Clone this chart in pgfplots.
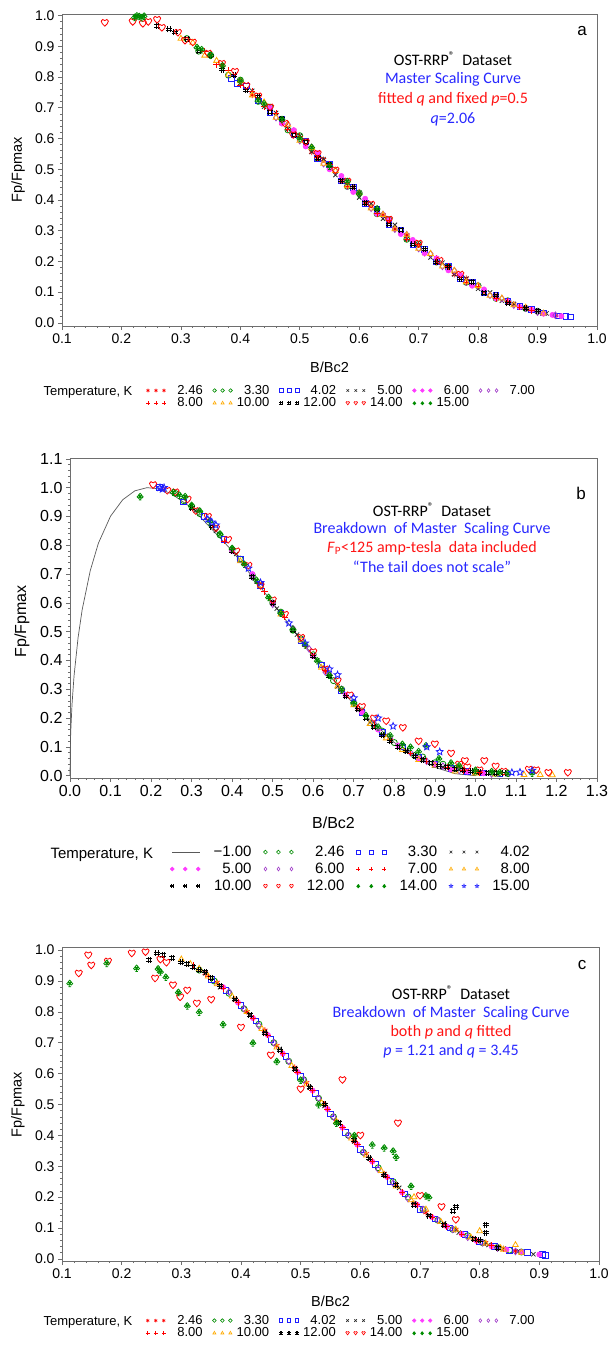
\documentclass[border=0pt]{standalone}
\usepackage{fontspec}
\setmainfont{Liberation Sans}
\newfontfamily\calib{Carlito}
\usepackage{pgfplots}
\pgfplotsset{compat=1.18}

\definecolor{sred}{RGB}{255,0,0}
\definecolor{sgreen}{RGB}{0,140,0}
\definecolor{sblue}{RGB}{30,30,255}
\definecolor{smag}{RGB}{255,60,255}
\definecolor{spurp}{RGB}{160,60,200}
\definecolor{sorange}{RGB}{255,170,0}
\definecolor{txtblue}{RGB}{40,40,255}
\definecolor{txtred}{RGB}{255,20,20}
\definecolor{axgray}{RGB}{110,110,110}

\pgfdeclareplotmark{hash}{%
  \pgfpathmoveto{\pgfqpoint{-0.4\pgfplotmarksize}{-\pgfplotmarksize}}\pgfpathlineto{\pgfqpoint{-0.4\pgfplotmarksize}{\pgfplotmarksize}}%
  \pgfpathmoveto{\pgfqpoint{0.4\pgfplotmarksize}{-\pgfplotmarksize}}\pgfpathlineto{\pgfqpoint{0.4\pgfplotmarksize}{\pgfplotmarksize}}%
  \pgfpathmoveto{\pgfqpoint{-\pgfplotmarksize}{-0.4\pgfplotmarksize}}\pgfpathlineto{\pgfqpoint{\pgfplotmarksize}{-0.4\pgfplotmarksize}}%
  \pgfpathmoveto{\pgfqpoint{-\pgfplotmarksize}{0.4\pgfplotmarksize}}\pgfpathlineto{\pgfqpoint{\pgfplotmarksize}{0.4\pgfplotmarksize}}%
  \pgfusepathqstroke}
\pgfdeclareplotmark{heart}{%
  \pgfpathmoveto{\pgfqpoint{0pt}{-\pgfplotmarksize}}%
  \pgfpathcurveto{\pgfqpoint{-0.5\pgfplotmarksize}{-0.5\pgfplotmarksize}}{\pgfqpoint{-\pgfplotmarksize}{-0.1\pgfplotmarksize}}{\pgfqpoint{-\pgfplotmarksize}{0.4\pgfplotmarksize}}%
  \pgfpathcurveto{\pgfqpoint{-\pgfplotmarksize}{0.95\pgfplotmarksize}}{\pgfqpoint{-0.25\pgfplotmarksize}{1.05\pgfplotmarksize}}{\pgfqpoint{0pt}{0.55\pgfplotmarksize}}%
  \pgfpathcurveto{\pgfqpoint{0.25\pgfplotmarksize}{1.05\pgfplotmarksize}}{\pgfqpoint{\pgfplotmarksize}{0.95\pgfplotmarksize}}{\pgfqpoint{\pgfplotmarksize}{0.4\pgfplotmarksize}}%
  \pgfpathcurveto{\pgfqpoint{\pgfplotmarksize}{-0.1\pgfplotmarksize}}{\pgfqpoint{0.5\pgfplotmarksize}{-0.5\pgfplotmarksize}}{\pgfqpoint{0pt}{-\pgfplotmarksize}}%
  \pgfpathclose\pgfusepathqstroke}
\pgfdeclareplotmark{club}{%
  \pgfpathcircle{\pgfqpoint{0pt}{0.45\pgfplotmarksize}}{0.38\pgfplotmarksize}%
  \pgfpathcircle{\pgfqpoint{-0.45\pgfplotmarksize}{-0.15\pgfplotmarksize}}{0.38\pgfplotmarksize}%
  \pgfpathcircle{\pgfqpoint{0.45\pgfplotmarksize}{-0.15\pgfplotmarksize}}{0.38\pgfplotmarksize}%
  \pgfpathmoveto{\pgfqpoint{0pt}{0pt}}\pgfpathlineto{\pgfqpoint{0pt}{-\pgfplotmarksize}}%
  \pgfpathmoveto{\pgfqpoint{-0.35\pgfplotmarksize}{-\pgfplotmarksize}}\pgfpathlineto{\pgfqpoint{0.35\pgfplotmarksize}{-\pgfplotmarksize}}%
  \pgfusepathqstroke}
\pgfdeclareplotmark{starout}{%
  \pgfpathmoveto{\pgfpointpolar{90}{\pgfplotmarksize}}%
  \pgfpathlineto{\pgfpointpolar{126}{0.45\pgfplotmarksize}}%
  \pgfpathlineto{\pgfpointpolar{162}{\pgfplotmarksize}}%
  \pgfpathlineto{\pgfpointpolar{198}{0.45\pgfplotmarksize}}%
  \pgfpathlineto{\pgfpointpolar{234}{\pgfplotmarksize}}%
  \pgfpathlineto{\pgfpointpolar{270}{0.45\pgfplotmarksize}}%
  \pgfpathlineto{\pgfpointpolar{306}{\pgfplotmarksize}}%
  \pgfpathlineto{\pgfpointpolar{342}{0.45\pgfplotmarksize}}%
  \pgfpathlineto{\pgfpointpolar{18}{\pgfplotmarksize}}%
  \pgfpathlineto{\pgfpointpolar{54}{0.45\pgfplotmarksize}}%
  \pgfpathclose\pgfusepathqstroke}

\pgfplotsset{
  mA/.style={only marks, sred, mark=asterisk, mark size=3pt, line width=0.8pt},
  mB/.style={only marks, sgreen, mark=o, mark size=3pt, line width=0.8pt},
  mC/.style={only marks, sblue, mark=square, mark size=2.8pt, line width=0.8pt},
  mD/.style={only marks, black!85, mark=x, mark size=3pt, line width=0.8pt},
  mE/.style={only marks, smag, mark=*, mark size=2.6pt, line width=0.6pt},
  mF/.style={only marks, spurp, mark=diamond, mark size=3.3pt, line width=0.8pt},
  mG/.style={only marks, sred, mark=+, mark size=3.2pt, line width=0.8pt},
  mH/.style={only marks, sorange, mark=triangle, mark size=3.3pt, line width=0.8pt},
  mI/.style={only marks, black, mark=hash, mark size=3pt, line width=0.8pt},
  mJ/.style={only marks, sred, mark=heart, mark size=3.6pt, line width=0.8pt},
  mK/.style={only marks, sgreen, mark=club, mark size=3.6pt, line width=0.8pt},
  mL/.style={only marks, sblue, mark=starout, mark size=3.6pt, line width=0.8pt},
  sasaxis/.style={
    scale only axis, anchor=south west,
    axis line style={draw=axgray, line width=0.7pt},
    every tick/.style={draw=axgray, line width=0.6pt},
    tick align=outside,
    xtick pos=bottom, ytick pos=left,
    major tick length=4pt, minor tick length=2.2pt,
    minor x tick num=4, minor y tick num=4,
    /pgf/number format/assume math mode=true,
    xticklabel style={/pgf/number format/.cd, fixed, fixed zerofill, precision=1},
    yticklabel style={/pgf/number format/.cd, fixed, fixed zerofill, precision=1},
    xlabel={B/Bc2}, ylabel={Fp/Fpmax},
    clip=false,
  },
  legA/.style={
    legend image code/.code={\draw[mark repeat=1,##1, mark size=1.8pt, line width=0.6pt] plot coordinates {(0pt,0pt) (8pt,0pt) (16pt,0pt)};},
    legend columns=6,
    legend style={draw=none, fill=none, inner sep=0pt, font=\fontsize{13}{14}\selectfont,
      nodes={inner sep=1pt}, row sep=0pt,
      /tikz/every even column/.append style={column sep=9pt}},
  },
  legB/.style={
    legend image code/.code={\draw[mark repeat=1,##1, mark size=1.9pt, line width=0.6pt] plot coordinates {(0pt,0pt) (13pt,0pt) (26pt,0pt)};},
    legend columns=4,
    legend style={draw=none, fill=none, inner sep=0pt, font=\fontsize{15}{16}\selectfont,
      nodes={inner sep=1pt}, row sep=3pt,
      /tikz/every even column/.append style={column sep=11pt}},
  },
}

\newcommand{\la}[1]{\makebox[36pt][r]{#1}}
\newcommand{\lb}[1]{\makebox[50pt][r]{#1}}

\begin{document}
\begin{tikzpicture}[x=1pt,y=1pt]
\path[use as bounding box] (0,0) rectangle (608,1347);

% ================= Panel a =================
\begin{axis}[sasaxis, legA,
  at={(62pt,1021pt)}, width=535pt, height=312pt,
  xmin=0.1, xmax=1.0, ymin=-0.01, ymax=1.005,
  xtick={0.1,0.2,...,1.0}, ytick={0,0.1,...,1.0},
  ticklabel style={font=\fontsize{14}{16}\selectfont},
  label style={font=\fontsize{14.5}{16}\selectfont},
  xlabel style={at={(axis description cs:0.5,-0.131)}, anchor=center},
  ylabel style={at={(axis description cs:-0.082,0.5)}, anchor=center},
  legend style={at={(0.157,-0.186)}, anchor=north west},
]
\addplot[mA] coordinates {(0.35,0.868) (0.37,0.838) (0.40,0.789) (0.42,0.741) (0.45,0.701) (0.47,0.649) (0.49,0.626) (0.52,0.556) (0.54,0.531) (0.57,0.462) (0.59,0.441) (0.61,0.390) (0.64,0.352) (0.66,0.305) (0.68,0.286) (0.71,0.226) (0.73,0.211) (0.76,0.158) (0.78,0.145) (0.81,0.100) (0.83,0.090) (0.86,0.061) (0.88,0.050) (0.91,0.031) (0.93,0.024)};
\addlegendentry{\la{2.46}}
\addplot[mB] coordinates {(0.31,0.925) (0.33,0.884) (0.35,0.871) (0.38,0.806) (0.40,0.790) (0.43,0.721) (0.45,0.702) (0.48,0.628) (0.50,0.609) (0.53,0.536) (0.55,0.515) (0.58,0.444) (0.60,0.423) (0.63,0.355) (0.65,0.336) (0.68,0.272) (0.70,0.256) (0.73,0.198) (0.75,0.183) (0.78,0.132) (0.80,0.121) (0.83,0.080) (0.85,0.072) (0.88,0.047) (0.90,0.038)};
\addlegendentry{\la{3.30}}
\addplot[mC] coordinates {(0.385,0.796) (0.395,0.779) (0.41,0.771) (0.43,0.722) (0.45,0.685) (0.47,0.664) (0.49,0.611) (0.51,0.590) (0.53,0.536) (0.55,0.515) (0.57,0.462) (0.59,0.441) (0.61,0.389) (0.63,0.370) (0.65,0.321) (0.67,0.302) (0.69,0.256) (0.71,0.240) (0.73,0.198) (0.75,0.183) (0.77,0.144) (0.79,0.132) (0.81,0.099) (0.83,0.090) (0.85,0.070) (0.87,0.053) (0.89,0.043) (0.91,0.032) (0.935,0.023) (0.948,0.021) (0.955,0.020)};
\addlegendentry{\la{4.02}}
\addplot[mD] coordinates {(0.40,0.781) (0.42,0.755) (0.44,0.703) (0.46,0.683) (0.48,0.631) (0.50,0.608) (0.52,0.556) (0.54,0.533) (0.56,0.481) (0.58,0.459) (0.60,0.408) (0.62,0.388) (0.64,0.339) (0.66,0.319) (0.68,0.273) (0.70,0.255) (0.72,0.213) (0.74,0.196) (0.76,0.158) (0.78,0.144) (0.80,0.111) (0.82,0.099) (0.84,0.072) (0.86,0.062) (0.88,0.048) (0.90,0.037) (0.915,0.031)};
\addlegendentry{\la{5.00}}
\addplot[mE] coordinates {(0.45,0.700) (0.47,0.649) (0.49,0.627) (0.51,0.574) (0.53,0.552) (0.55,0.500) (0.57,0.478) (0.59,0.426) (0.61,0.404) (0.63,0.355) (0.65,0.335) (0.67,0.289) (0.69,0.270) (0.71,0.227) (0.73,0.210) (0.75,0.171) (0.77,0.156) (0.79,0.121) (0.81,0.109) (0.83,0.080) (0.85,0.070) (0.87,0.052) (0.89,0.043) (0.91,0.030) (0.925,0.026) (0.94,0.022)};
\addlegendentry{\la{6.00}}
\addplot[mF] coordinates {(0.46,0.668) (0.48,0.646) (0.50,0.593) (0.52,0.571) (0.54,0.518) (0.56,0.496) (0.58,0.445) (0.60,0.423) (0.62,0.373) (0.64,0.353) (0.66,0.305) (0.68,0.287) (0.70,0.242) (0.72,0.225) (0.74,0.184) (0.76,0.170) (0.78,0.133) (0.80,0.121) (0.82,0.090) (0.84,0.079) (0.86,0.058) (0.88,0.048) (0.90,0.035) (0.93,0.025)};
\addlegendentry{\la{7.00}}
\addplot[mG] coordinates {(0.34,0.884) (0.36,0.840) (0.38,0.822) (0.40,0.774) (0.42,0.753) (0.44,0.704) (0.46,0.682) (0.48,0.631) (0.50,0.608) (0.53,0.537) (0.55,0.515) (0.58,0.445) (0.60,0.422) (0.63,0.356) (0.65,0.335) (0.68,0.273) (0.70,0.254) (0.73,0.199) (0.75,0.183) (0.78,0.133) (0.80,0.120) (0.83,0.080) (0.85,0.071) (0.87,0.052) (0.89,0.041)};
\addlegendentry{\la{8.00}}
\addplot[mH] coordinates {(0.30,0.925) (0.32,0.912) (0.34,0.870) (0.36,0.853) (0.38,0.808) (0.40,0.787) (0.42,0.740) (0.44,0.718) (0.46,0.668) (0.48,0.645) (0.50,0.593) (0.52,0.570) (0.54,0.518) (0.56,0.495) (0.58,0.445) (0.60,0.422) (0.62,0.373) (0.64,0.352) (0.66,0.305) (0.68,0.286) (0.70,0.242) (0.72,0.225) (0.74,0.184) (0.76,0.170) (0.78,0.133) (0.80,0.121) (0.82,0.089) (0.84,0.080) (0.86,0.058) (0.88,0.050) (0.91,0.031)};
\addlegendentry{\la{10.00}}
\addplot[mI] coordinates {(0.26,0.966) (0.28,0.955) (0.29,0.945) (0.31,0.925) (0.33,0.884) (0.35,0.870) (0.37,0.824) (0.39,0.806) (0.41,0.757) (0.43,0.737) (0.45,0.686) (0.47,0.664) (0.49,0.612) (0.51,0.589) (0.53,0.537) (0.55,0.514) (0.57,0.463) (0.59,0.441) (0.61,0.390) (0.63,0.370) (0.65,0.321) (0.67,0.302) (0.69,0.256) (0.71,0.240) (0.73,0.197) (0.75,0.183) (0.77,0.144) (0.79,0.133) (0.81,0.098) (0.83,0.090) (0.85,0.064) (0.88,0.047) (0.90,0.040)};
\addlegendentry{\la{12.00}}
\addplot[mJ] coordinates {(0.172,0.977) (0.219,0.980) (0.236,0.974) (0.245,0.980) (0.260,0.987) (0.268,0.961) (0.295,0.945) (0.307,0.919) (0.320,0.913) (0.346,0.877) (0.369,0.844) (0.391,0.818) (0.41,0.772) (0.43,0.738) (0.45,0.702) (0.475,0.649) (0.489,0.612) (0.51,0.589) (0.53,0.551) (0.56,0.497) (0.58,0.461) (0.62,0.386) (0.65,0.337) (0.70,0.259) (0.735,0.203) (0.77,0.158)};
\addlegendentry{\la{14.00}}
\addplot[mK] coordinates {(0.222,0.995) (0.226,1.000) (0.230,0.998) (0.234,0.994) (0.238,0.999) (0.327,0.897) (0.335,0.890) (0.35,0.872) (0.37,0.838) (0.40,0.788) (0.43,0.724) (0.44,0.714) (0.47,0.663) (0.50,0.601) (0.52,0.572) (0.55,0.511) (0.58,0.461) (0.60,0.421) (0.63,0.372)};
\addlegendentry{\la{15.00}}
\end{axis}

% ================= Panel b =================
\begin{axis}[sasaxis, legB,
  at={(70pt,569pt)}, width=527pt, height=320pt,
  xmin=0, xmax=1.3, ymin=-0.008, ymax=1.103,
  xtick={0,0.1,...,1.3}, ytick={0,0.1,...,1.1},
  ticklabel style={font=\fontsize{16}{18}\selectfont},
  label style={font=\fontsize{16}{18}\selectfont},
  xlabel style={at={(axis description cs:0.5,-0.141)}, anchor=center},
  ylabel style={at={(axis description cs:-0.091,0.49)}, anchor=center},
  legend style={at={(0.19,-0.209)}, anchor=north west},
]
\addplot[no marks, black!65, line width=0.7pt, legend image code/.code={\draw[##1] (0pt,0pt) -- (28pt,0pt);}] coordinates {(0,0) (0.001,0.112) (0.002,0.158) (0.005,0.248) (0.01,0.347) (0.02,0.48) (0.03,0.576) (0.05,0.712) (0.07,0.807) (0.1,0.901) (0.13,0.958) (0.16,0.989) (0.19,1.0) (0.22,0.996) (0.25,0.979) (0.3,0.93) (0.4,0.781) (0.5,0.6) (0.6,0.415) (0.7,0.248) (0.8,0.115) (0.9,0.029) (0.95,0.007) (1.0,0)};
\addlegendentry{\lb{−1.00}}
\addplot[mB] coordinates {(0.26,0.98) (0.28,0.955) (0.3,0.935) (0.32,0.91) (0.35,0.87) (0.37,0.836) (0.4,0.785) (0.42,0.752) (0.45,0.695) (0.47,0.66) (0.5,0.6) (0.52,0.568) (0.55,0.505) (0.57,0.475) (0.6,0.42) (0.62,0.385) (0.65,0.33) (0.67,0.3) (0.7,0.25) (0.72,0.225) (0.75,0.175) (0.77,0.155) (0.8,0.115) (0.82,0.1) (0.85,0.07) (0.87,0.065) (0.9,0.045) (0.92,0.04) (0.95,0.025) (1.0,0.012) (1.05,0.008)};
\addlegendentry{\lb{2.46}}
\addplot[mC] coordinates {(0.22,1.0) (0.28,0.95) (0.33,0.9) (0.38,0.82) (0.42,0.75) (0.47,0.66) (0.52,0.565) (0.57,0.47) (0.62,0.385) (0.67,0.295) (0.72,0.22) (0.77,0.15) (0.82,0.1) (0.86,0.065) (0.9,0.04) (0.94,0.025) (0.98,0.015) (1.02,0.01) (1.06,0.006)};
\addlegendentry{\lb{3.30}}
\addplot[mD] coordinates {(0.31,0.92) (0.36,0.85) (0.41,0.77) (0.46,0.675) (0.51,0.58) (0.56,0.49) (0.61,0.4) (0.66,0.31) (0.7,0.255) (0.74,0.185) (0.78,0.14) (0.83,0.085) (0.87,0.06) (0.92,0.03) (0.96,0.02) (1.0,0.01) (1.08,0.005)};
\addlegendentry{\lb{4.02}}
\addplot[mE] coordinates {(0.4,0.78) (0.45,0.7) (0.5,0.6) (0.55,0.51) (0.6,0.415) (0.64,0.35) (0.68,0.28) (0.72,0.22) (0.76,0.16) (0.81,0.105) (0.86,0.06) (0.9,0.04) (0.94,0.022) (0.98,0.014) (1.02,0.008)};
\addlegendentry{\lb{5.00}}
\addplot[mF] coordinates {(0.45,0.69) (0.5,0.595) (0.55,0.51) (0.59,0.44) (0.63,0.36) (0.67,0.3) (0.71,0.235) (0.75,0.18) (0.79,0.13) (0.84,0.08) (0.88,0.05) (0.92,0.033) (0.96,0.018) (1.04,0.006)};
\addlegendentry{\lb{6.00}}
\addplot[mG] coordinates {(0.38,0.815) (0.43,0.735) (0.48,0.64) (0.53,0.55) (0.58,0.45) (0.63,0.365) (0.67,0.295) (0.71,0.235) (0.75,0.175) (0.79,0.125) (0.84,0.078) (0.88,0.05) (0.93,0.03) (0.97,0.018) (1.01,0.01)};
\addlegendentry{\lb{7.00}}
\addplot[mH] coordinates {(0.42,0.745) (0.47,0.66) (0.52,0.56) (0.57,0.47) (0.62,0.375) (0.66,0.31) (0.7,0.245) (0.74,0.18) (0.78,0.13) (0.82,0.09) (0.86,0.055) (0.9,0.035) (0.95,0.015) (1.0,0.008) (1.05,0.005) (1.12,0.003) (1.16,0.003) (1.19,0.002)};
\addlegendentry{\lb{8.00}}
\addplot[mI] coordinates {(0.3,0.93) (0.35,0.865) (0.4,0.78) (0.45,0.69) (0.5,0.6) (0.55,0.505) (0.6,0.415) (0.64,0.345) (0.68,0.275) (0.71,0.23) (0.73,0.2) (0.75,0.17) (0.77,0.14) (0.79,0.12) (0.81,0.1) (0.83,0.085) (0.85,0.068) (0.87,0.055) (0.89,0.045) (0.91,0.035) (0.93,0.03) (0.95,0.024) (0.97,0.02) (0.99,0.015) (1.01,0.012) (1.03,0.01) (1.05,0.01) (1.07,0.008)};
\addlegendentry{\lb{10.00}}
\addplot[mJ] coordinates {(0.205,1.01) (0.24,0.99) (0.26,0.985) (0.29,0.96) (0.31,0.92) (0.34,0.9) (0.36,0.86) (0.39,0.82) (0.41,0.78) (0.44,0.73) (0.47,0.66) (0.5,0.61) (0.53,0.56) (0.57,0.48) (0.6,0.43) (0.63,0.37) (0.66,0.33) (0.69,0.28) (0.72,0.24) (0.75,0.2) (0.78,0.19) (0.821,0.167) (0.86,0.12) (0.9,0.11) (0.94,0.078) (0.96,0.04) (0.974,0.052) (0.98,0.03) (1.01,0.02) (1.022,0.052) (1.05,0.033) (1.07,0.015) (1.132,0.022) (1.15,0.02) (1.18,0.011) (1.228,0.011)};
\addlegendentry{\lb{12.00}}
\addplot[mK] coordinates {(0.173,0.97) (0.255,0.985) (0.27,0.975) (0.284,0.97) (0.3,0.94) (0.32,0.92) (0.345,0.885) (0.37,0.84) (0.4,0.79) (0.43,0.735) (0.46,0.68) (0.49,0.62) (0.52,0.565) (0.55,0.51) (0.58,0.455) (0.61,0.4) (0.64,0.35) (0.67,0.3) (0.7,0.255) (0.73,0.21) (0.76,0.17) (0.79,0.14) (0.82,0.11) (0.84,0.1) (0.86,0.085) (0.878,0.105) (0.91,0.06) (0.94,0.045) (0.96,0.035) (1.0,0.02) (1.04,0.015) (1.06,0.012) (1.08,0.01) (1.14,0.01)};
\addlegendentry{\lb{14.00}}
\addplot[mL] coordinates {(0.222,1.0) (0.228,0.995) (0.232,1.0) (0.34,0.89) (0.35,0.88) (0.36,0.87) (0.44,0.72) (0.47,0.67) (0.54,0.53) (0.58,0.46) (0.64,0.37) (0.66,0.35) (0.7,0.27) (0.76,0.2) (0.797,0.172) (0.88,0.1) (0.912,0.083) (1.09,0.011) (1.11,0.012) (1.14,0.018)};
\addlegendentry{\lb{15.00}}
\end{axis}

% ================= Panel c =================
\begin{axis}[sasaxis, legA,
  at={(62pt,86pt)}, width=537pt, height=314pt,
  xmin=0.1, xmax=1.0, ymin=-0.007, ymax=1.01,
  xtick={0.1,0.2,...,1.0}, ytick={0,0.1,...,1.0},
  ticklabel style={font=\fontsize{14}{16}\selectfont},
  label style={font=\fontsize{14.5}{16}\selectfont},
  xlabel style={at={(axis description cs:0.5,-0.127)}, anchor=center},
  ylabel style={at={(axis description cs:-0.082,0.497)}, anchor=center},
  legend style={at={(0.156,-0.169)}, anchor=north west},
]
\addplot[mA] coordinates {(0.34,0.925) (0.36,0.895) (0.39,0.84) (0.41,0.8) (0.44,0.74) (0.46,0.69) (0.49,0.62) (0.51,0.57) (0.54,0.5) (0.56,0.445) (0.59,0.38) (0.61,0.34) (0.64,0.275) (0.66,0.24) (0.69,0.18) (0.71,0.15) (0.74,0.11) (0.76,0.095) (0.79,0.065) (0.81,0.052) (0.84,0.032) (0.86,0.025)};
\addlegendentry{\la{2.46}}
\addplot[mB] coordinates {(0.33,0.935) (0.355,0.9) (0.38,0.86) (0.405,0.81) (0.43,0.76) (0.455,0.7) (0.48,0.64) (0.505,0.58) (0.53,0.52) (0.555,0.46) (0.58,0.4) (0.605,0.345) (0.63,0.295) (0.655,0.25) (0.68,0.2) (0.705,0.16) (0.73,0.125) (0.755,0.095) (0.78,0.075) (0.805,0.052) (0.83,0.037) (0.85,0.028) (0.87,0.022)};
\addlegendentry{\la{3.30}}
\addplot[mC] coordinates {(0.35,0.905) (0.375,0.87) (0.4,0.82) (0.425,0.77) (0.45,0.71) (0.475,0.655) (0.5,0.59) (0.525,0.535) (0.55,0.47) (0.575,0.41) (0.6,0.355) (0.625,0.305) (0.65,0.25) (0.675,0.21) (0.7,0.16) (0.725,0.13) (0.75,0.1) (0.775,0.08) (0.8,0.055) (0.825,0.04) (0.85,0.027) (0.88,0.02) (0.905,0.015) (0.91,0.012)};
\addlegendentry{\la{4.02}}
\addplot[mD] coordinates {(0.34,0.925) (0.365,0.88) (0.39,0.84) (0.415,0.79) (0.44,0.735) (0.465,0.68) (0.49,0.615) (0.515,0.555) (0.54,0.495) (0.565,0.44) (0.59,0.38) (0.615,0.325) (0.64,0.275) (0.665,0.23) (0.69,0.18) (0.715,0.14) (0.74,0.115) (0.765,0.085) (0.79,0.065) (0.815,0.045) (0.84,0.033) (0.865,0.025) (0.89,0.015)};
\addlegendentry{\la{5.00}}
\addplot[mE] coordinates {(0.37,0.88) (0.395,0.83) (0.42,0.78) (0.445,0.725) (0.47,0.665) (0.495,0.605) (0.52,0.545) (0.545,0.485) (0.57,0.425) (0.595,0.37) (0.62,0.315) (0.645,0.265) (0.67,0.215) (0.695,0.175) (0.72,0.135) (0.745,0.105) (0.77,0.08) (0.795,0.058) (0.82,0.04) (0.845,0.03) (0.87,0.022) (0.9,0.014)};
\addlegendentry{\la{6.00}}
\addplot[mF] coordinates {(0.38,0.865) (0.405,0.81) (0.43,0.755) (0.455,0.7) (0.48,0.64) (0.505,0.58) (0.53,0.52) (0.555,0.46) (0.58,0.4) (0.605,0.345) (0.63,0.29) (0.655,0.245) (0.68,0.195) (0.705,0.16) (0.73,0.125) (0.755,0.095) (0.78,0.07) (0.805,0.052) (0.83,0.035) (0.86,0.024)};
\addlegendentry{\la{7.00}}
\addplot[mG] coordinates {(0.32,0.95) (0.345,0.915) (0.37,0.875) (0.395,0.83) (0.42,0.78) (0.445,0.725) (0.47,0.665) (0.495,0.605) (0.52,0.545) (0.545,0.485) (0.57,0.425) (0.595,0.37) (0.62,0.315) (0.645,0.265) (0.67,0.215) (0.695,0.175) (0.72,0.135) (0.745,0.105) (0.77,0.08) (0.795,0.06) (0.82,0.043)};
\addlegendentry{\la{8.00}}
\addplot[mH] coordinates {(0.3,0.97) (0.315,0.955) (0.33,0.94) (0.345,0.915) (0.36,0.89) (0.385,0.85) (0.41,0.8) (0.435,0.745) (0.46,0.685) (0.485,0.625) (0.51,0.565) (0.535,0.505) (0.56,0.445) (0.585,0.39) (0.61,0.335) (0.635,0.285) (0.66,0.235) (0.69,0.2) (0.685,0.19) (0.71,0.16) (0.735,0.12) (0.76,0.095) (0.785,0.07) (0.8,0.09) (0.81,0.05) (0.835,0.035) (0.84,0.03) (0.86,0.045) (0.87,0.02)};
\addlegendentry{\la{10.00}}
\addplot[mI] coordinates {(0.246,0.968) (0.259,0.99) (0.27,0.985) (0.285,0.975) (0.3,0.96) (0.31,0.955) (0.32,0.945) (0.33,0.935) (0.34,0.93) (0.35,0.91) (0.365,0.885) (0.39,0.84) (0.415,0.79) (0.44,0.73) (0.465,0.675) (0.49,0.615) (0.515,0.555) (0.54,0.5) (0.565,0.44) (0.59,0.385) (0.615,0.325) (0.64,0.27) (0.66,0.24) (0.69,0.175) (0.715,0.14) (0.74,0.11) (0.755,0.155) (0.76,0.169) (0.79,0.065) (0.8,0.06) (0.81,0.111) (0.81,0.085) (0.83,0.035)};
\addlegendentry{\la{12.00}}
\addplot[mJ] coordinates {(0.128,0.925) (0.144,0.984) (0.149,0.951) (0.177,0.964) (0.217,0.99) (0.24,0.994) (0.256,0.909) (0.265,0.97) (0.275,0.96) (0.286,0.887) (0.298,0.848) (0.31,0.87) (0.326,0.828) (0.35,0.84) (0.4,0.75) (0.45,0.66) (0.5,0.55) (0.57,0.58) (0.6,0.4) (0.663,0.44) (0.70,0.205) (0.736,0.169) (0.76,0.127)};
\addlegendentry{\la{14.00}}
\addplot[mK] coordinates {(0.113,0.893) (0.175,0.958) (0.225,0.942) (0.261,0.94) (0.265,0.93) (0.274,0.913) (0.295,0.864) (0.31,0.82) (0.33,0.8) (0.37,0.76) (0.42,0.7) (0.46,0.64) (0.5,0.58) (0.53,0.5) (0.56,0.44) (0.59,0.4) (0.62,0.37) (0.64,0.36) (0.66,0.33) (0.655,0.35) (0.685,0.236) (0.71,0.205) (0.715,0.2)};
\addlegendentry{\la{15.00}}
\end{axis}

% ===== legend titles =====
\node[anchor=west, font=\fontsize{13}{14}\selectfont] at (40,955) {Temperature,\ K};
\node[anchor=west, font=\fontsize{15}{16}\selectfont] at (47,492) {Temperature,\ K};
\node[anchor=west, font=\fontsize{13}{14}\selectfont] at (40,25) {Temperature,\ K};

% ===== panel letters =====
\node[font=\fontsize{17}{18}\selectfont] at (582,1316) {a};
\node[font=\fontsize{17}{18}\selectfont] at (581,854) {b};
\node[font=\fontsize{17}{18}\selectfont] at (582,382) {c};

% ===== annotations =====
\begin{scope}[every node/.style={font=\calib\fontsize{16}{18}\selectfont, inner sep=0pt}]
\node at (453,1288) {OST-RRP\textsuperscript{®}\ \ Dataset};
\node[txtblue] at (453,1268) {Master Scaling Curve};
\node[txtred] at (453,1248) {fitted \textit{q} and fixed \textit{p}=0.5};
\node[txtblue] at (453,1228) {\textit{q}=2.06};

\node at (432,837) {OST-RRP\textsuperscript{®}\ \ Dataset};
\node[txtblue] at (432,818) {Breakdown\ \ of Master\ \ Scaling Curve};
\node[txtred] at (432,799) {\textit{F}\textsubscript{P}<125 amp-tesla\ \ data included};
\node[txtblue] at (432,780) {“The tail does not scale”};

\node at (451,354) {OST-RRP\textsuperscript{®}\ \ Dataset};
\node[txtblue] at (451,334) {Breakdown\ \ of Master\ \ Scaling Curve};
\node[txtred] at (451,315) {both \textit{p} and \textit{q} fitted};
\node[txtblue] at (451,296) {\textit{p} = 1.21 and \textit{q} = 3.45};
\end{scope}
\end{tikzpicture}
\end{document}
